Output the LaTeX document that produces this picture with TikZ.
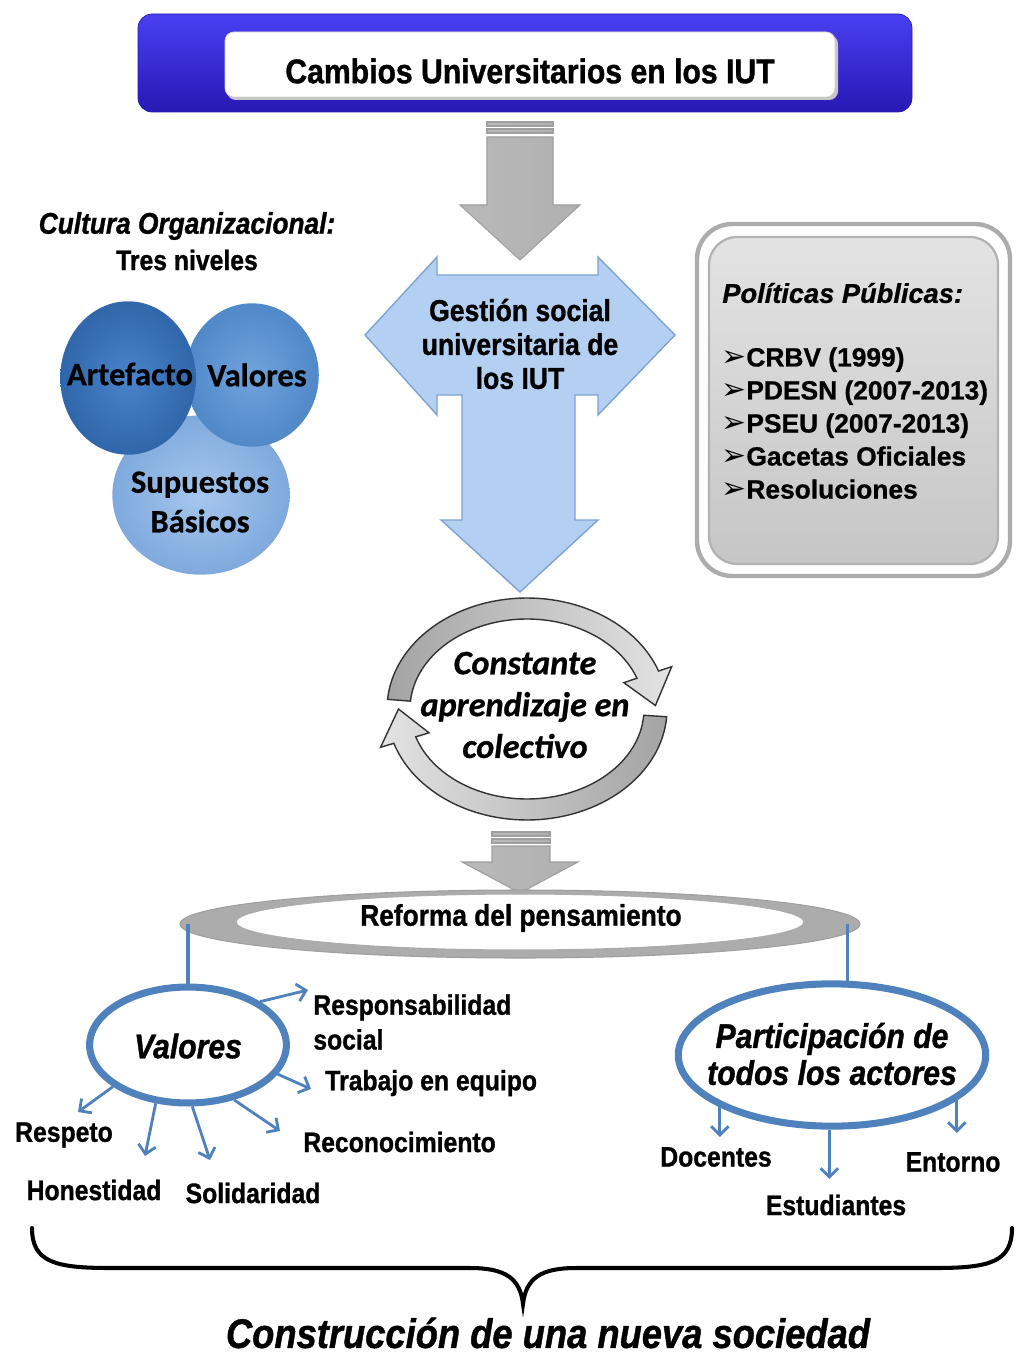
\documentclass[tikz,border=0pt]{standalone}
\usepackage{fontspec}
\setmainfont{Liberation Sans}[BoldFeatures={FakeBold=0.8}, BoldItalicFeatures={FakeBold=0.8}]
\newfontfamily\nar{Liberation Sans}[FakeStretch=0.88, BoldFeatures={FakeBold=1}, BoldItalicFeatures={FakeBold=1}]
\newfontfamily\calib{Carlito}[BoldFeatures={FakeBold=0.6}, BoldItalicFeatures={FakeBold=0.8}]
\newfontfamily\dejav{DejaVu Sans}
\usetikzlibrary{shapes.geometric,arrows.meta}
\definecolor{bannertop}{HTML}{4A3FF2}
\definecolor{bannerbot}{HTML}{2619B4}
\definecolor{lineblue}{HTML}{4F81BD}
\definecolor{arrlight}{HTML}{F0F6FD}
\definecolor{arrdark}{HTML}{B3CFF1}
\definecolor{arredge}{HTML}{7EA3D3}
\definecolor{cAin}{HTML}{4A84CA}
\definecolor{cAout}{HTML}{3066AA}
\definecolor{cVin}{HTML}{6FA3DD}
\definecolor{cVout}{HTML}{5088C8}
\definecolor{cSin}{HTML}{A6C7EE}
\definecolor{cSout}{HTML}{7FA9DD}
\tikzset{
  lbl/.style={font=\nar\bfseries\fontsize{16}{19.8}\selectfont, inner sep=0pt},
  arr/.style={draw=lineblue, line width=1.6pt, -{Straight Barb[length=5pt,width=10pt]}},
  blueline/.style={draw=lineblue, line width=1.8pt},
  bigcirc/.style={ellipse, draw=lineblue, line width=4pt, fill=white, inner sep=0pt},
  bigtxt/.style={align=center, inner sep=0pt, font=\nar\bfseries\itshape\fontsize{19.5}{21}\selectfont},
  lvl/.style={ellipse, inner sep=0pt},
  lvltxt/.style={align=center, inner sep=0pt, font=\calib\bfseries\fontsize{18.5}{21.5}\selectfont},
  grayarrow/.style={left color=gray!55, middle color=gray!8, right color=gray!62, draw=gray!75, line width=0.6pt},
  ringarrow/.style={draw=black!80, line width=0.8pt},
  bul/.style={},
}
\newcommand{\bulletmark}{{\dejav\mdseries\fontsize{17}{18.8}\selectfont ➢}}
\begin{document}
\begin{tikzpicture}[x=0.02cm, y=-0.02cm]
\useasboundingbox (0,0) rectangle (1015,1354);

% ---------- banner ----------
\path[top color=bannertop, bottom color=bannerbot, draw=bannerbot, rounded corners=8pt]
  (138,14) rectangle (912,112);
\path[fill=gray!45, rounded corners=5pt] (227,35) rectangle (838,100);
\path[fill=white, draw=gray!35, rounded corners=5pt] (225,32) rectangle (835,97);
\node[font=\nar\bfseries\fontsize{19.5}{22}\selectfont] (title) at (530,71) {Cambios Universitarios en los IUT};

% ---------- top gray arrow ----------
\path[grayarrow] (487,122) rectangle (553,126);
\path[grayarrow] (487,129) rectangle (553,133);
\path[grayarrow] (487,137) -- (553,137) -- (553,205) -- (580,205) -- (520,260) -- (460,205) -- (487,205) -- cycle;

% ---------- left: cultura organizacional ----------
\node[font=\nar\bfseries\itshape\fontsize{17}{20}\selectfont] (cult) at (187,226) {Cultura Organizacional:};
\node[font=\nar\bfseries\fontsize{16}{19}\selectfont] (tres) at (187,260) {Tres niveles};
\node[lvl, minimum width=100.9pt, minimum height=90.7pt, inner color=cSin, outer color=cSout] (sup) at (201,495) {};
\node[lvl, minimum width=76pt, minimum height=81.6pt, inner color=cVin, outer color=cVout] (niv) at (252,375) {};
\node[lvl, minimum width=77.1pt, minimum height=87.3pt, inner color=cAin, outer color=cAout] (art) at (128,378) {};
\node[lvltxt] (suptxt) at (200,502) {Supuestos\\[1pt]Básicos};
\node[lvltxt] (nivtxt) at (257,375) {Valores};
\node[lvltxt] (arttxt) at (130,374) {Artefacto};

% ---------- right: politicas publicas ----------
\path[fill=white, draw=gray!65, line width=2.5pt, rounded corners=20pt] (697,224) rectangle (1010,576);
\path[top color=gray!22, bottom color=gray!45, draw=gray!60, line width=1.3pt, rounded corners=16pt] (709,237) rectangle (998,564);
\node[anchor=west, inner sep=0pt, font=\bfseries\itshape\fontsize{15.5}{18}\selectfont] (polt) at (722,293) {Políticas Públicas:};
\node[anchor=north west, align=left, inner sep=0pt, font=\bfseries\fontsize{15}{18.8}\selectfont] (pollist) at (721,347)
  {\bulletmark CRBV (1999)\\
   \bulletmark PDESN (2007-2013)\\
   \bulletmark PSEU (2007-2013)\\
   \bulletmark Gacetas Oficiales\\
   \bulletmark Resoluciones};

% ---------- cycle arrows ----------
\path[ringarrow, left color=gray!72, right color=gray!22]
  plot[domain=185:340, samples=60] ({527+140*cos(\x)},{709+111*sin(\x)})
  -- ({527+154*cos(340)},{709+124*sin(340)})
  -- ({527+128.5*cos(358)},{709+100.5*sin(358)})
  -- ({527+103*cos(340)},{709+77*sin(340)})
  -- plot[domain=340:185, samples=60] ({527+117*cos(\x)},{709+90*sin(\x)})
  -- cycle;
\path[ringarrow, left color=gray!22, right color=gray!72]
  plot[domain=4:162, samples=60] ({527+140*cos(\x)},{709+111*sin(\x)})
  -- ({527+154*cos(162)},{709+124*sin(162)})
  -- ({527+128.5*cos(180)},{709+100.5*sin(180)})
  -- ({527+103*cos(162)},{709+77*sin(162)})
  -- plot[domain=162:4, samples=60] ({527+117*cos(\x)},{709+90*sin(\x)})
  -- cycle;
\node[align=center, font=\calib\bfseries\itshape\fontsize{19.5}{23.8}\selectfont] (cyc) at (525,705)
  {Constante\\aprendizaje en\\colectivo};

% ---------- blue double arrow ----------
\path[left color=arrdark, middle color=arrlight, right color=arrdark, draw=arredge, line width=0.8pt]
  (365,335) -- (437,257) -- (437,275) -- (598,275) -- (598,257) -- (675,335) -- (598,415)
  -- (598,395) -- (575,395) -- (575,520) -- (598,520) -- (520,592) -- (441,520) -- (462,520)
  -- (462,395) -- (437,395) -- (437,415) -- cycle;
\node[align=center, font=\nar\bfseries\fontsize{17.2}{19.3}\selectfont] (gest) at (520,344)
  {Gestión social\\universitaria de\\los IUT};

% ---------- small gray arrow ----------
\path[grayarrow] (492,832) rectangle (550,836);
\path[grayarrow] (492,839) rectangle (550,843);
\path[grayarrow] (492,846) -- (550,846) -- (550,862) -- (578,862) -- (520,893) -- (462,862) -- (492,862) -- cycle;

% ---------- reforma ring ----------
\path[even odd rule, left color=gray!65, middle color=gray!5, right color=gray!65]
  (520,924) ellipse [x radius=340, y radius=34] (520,922) ellipse [x radius=284, y radius=28];
\draw[gray!75, line width=0.6pt] (520,924) ellipse [x radius=340, y radius=34];
\draw[gray!65, line width=0.6pt] (520,922) ellipse [x radius=284, y radius=28];
\node[ellipse, minimum width=385pt, minimum height=38.5pt, inner sep=0pt] (ref) at (520,924) {};
\node[font=\nar\bfseries\fontsize{17}{20}\selectfont] (reftxt) at (521,918) {Reforma del pensamiento};

% ---------- branches ----------
\node[bigcirc, minimum width=112pt, minimum height=66pt] (val) at (188,1045) {};
\node[bigcirc, minimum width=175pt, minimum height=81pt] (part) at (832,1055) {};
\node[bigtxt] (valtxt) at (188,1046) {Valores};
\node[bigtxt] (parttxt) at (832,1054) {Participación de\\todos los actores};
\draw[blueline] (val.north |- ref.west) -- (val.north);
\draw[blueline] (part.78 |- ref.east) -- (part.78);

% labels of values
\node[lbl, anchor=north west, align=left] (resp) at (313,994) {Responsabilidad\\social};
\node[lbl, anchor=west] (trab) at (325,1083) {Trabajo en equipo};
\node[lbl, anchor=west] (reco) at (303,1142) {Reconocimiento};
\node[lbl] (respe) at (64,1135) {Respeto};
\node[lbl] (hone) at (94,1190) {Honestidad};
\node[lbl] (soli) at (253,1193) {Solidaridad};
\coordinate (tResp) at (308,990);
\coordinate (tTrab) at (311,1089);
\coordinate (tReco) at (280,1131);
\coordinate (tRespe) at (78,1112);
\coordinate (tHone) at (145,1156);
\coordinate (tSoli) at (210,1160);
\draw[arr] (val.31) -- (tResp);
\draw[arr] (val.342) -- (tTrab);
\draw[arr] (val.310) -- (tReco);
\draw[arr] (val.209) -- (tRespe);
\draw[arr] (val.241) -- (tHone);
\draw[arr] (val.274) -- (tSoli);

% labels of actors
\node[lbl] (doc) at (716,1157) {Docentes};
\node[lbl] (est) at (836,1205) {Estudiantes};
\node[lbl] (ent) at (953,1162) {Entorno};
\coordinate (tDoc) at (720,1137);
\coordinate (tEst) at (828,1179);
\coordinate (tEnt) at (958,1133);
\draw[arr] (part.205) -- (part.205 |- tDoc);
\draw[arr] (part.268) -- (part.268 |- tEst);
\draw[arr] (part.340) -- (part.340 |- tEnt);

% ---------- brace ----------
\draw[line width=2.3pt, line cap=round]
  (32,1228) .. controls (32,1262) and (55,1268) .. (110,1268) -- (470,1268)
  .. controls (505,1268) and (520,1278) .. (523,1304)
  .. controls (526,1278) and (541,1268) .. (576,1268) -- (935,1268)
  .. controls (990,1268) and (1012,1262) .. (1012,1228);
\node[inner sep=0pt, font=\nar\bfseries\itshape\fontsize{23.5}{28}\selectfont] (cons) at (548,1333) {Construcción de una nueva sociedad};
\end{tikzpicture}
\end{document}
